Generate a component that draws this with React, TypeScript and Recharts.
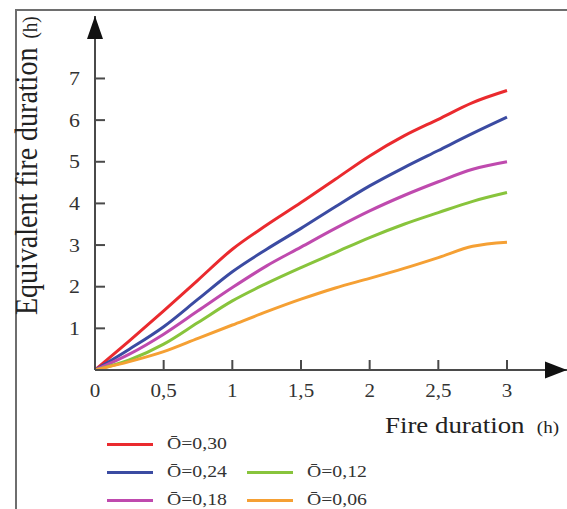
import { Legend, Line, LineChart, ReferenceDot, XAxis, YAxis } from 'recharts';

// fire duration (h) and equivalent fire duration (h) for each opening factor
const hours = [0, 0.25, 0.5, 0.75, 1, 1.25, 1.5, 1.75, 2, 2.25, 2.5, 2.75, 3];
const o30 = [0, 0.7, 1.42, 2.16, 2.9, 3.48, 4.02, 4.58, 5.14, 5.62, 6.02, 6.42, 6.71];
const o24 = [0, 0.5, 1.04, 1.7, 2.36, 2.9, 3.4, 3.92, 4.42, 4.86, 5.27, 5.68, 6.07];
const o18 = [0, 0.38, 0.86, 1.42, 1.98, 2.5, 2.95, 3.4, 3.82, 4.19, 4.52, 4.82, 5.0];
const o12 = [0, 0.24, 0.62, 1.14, 1.66, 2.08, 2.46, 2.82, 3.18, 3.5, 3.78, 4.05, 4.26];
const o06 = [0, 0.2, 0.44, 0.76, 1.08, 1.4, 1.7, 1.97, 2.2, 2.44, 2.7, 2.97, 3.07];

const seriesKeys = ['o30', 'o24', 'o18', 'o12', 'o06'];
const seriesNames = ['Ō=0,30', 'Ō=0,24', 'Ō=0,18', 'Ō=0,12', 'Ō=0,06'];
const seriesColors = ['#ea2a2e', '#3b4ba2', '#bf4aae', '#88c43c', '#f5a034'];

const xTicks = [0, 0.5, 1, 1.5, 2, 2.5, 3];
const xTickLabels = ['0', '0,5', '1', '1,5', '2', '2,5', '3'];
const yTicks = [1, 2, 3, 4, 5, 6, 7];

const X_MAX = 3.437;
const Y_MAX = 8.5;

const data = hours.map((h, i) => ({
  h,
  o30: o30[i],
  o24: o24[i],
  o18: o18[i],
  o12: o12[i],
  o06: o06[i],
}));

const FONT = 'Liberation Serif';
const AXIS = '#4a4a4a';

function XTick({ x, y, payload }: any) {
  const idx = xTicks.indexOf(payload.value);
  return (
    <g>
      <line x1={x} y1={y} x2={x} y2={y - 10} stroke={AXIS} strokeWidth={2} />
      <g transform={`translate(${x},${y + 27}) scale(1.17,1)`}>
        <text x={0} y={0} textAnchor="middle" fontSize={18} fontFamily={FONT} fill="#333">
          {idx >= 0 ? xTickLabels[idx] : payload.value}
        </text>
      </g>
    </g>
  );
}

function YTick({ x, y, payload }: any) {
  return (
    <g>
      <line x1={x} y1={y} x2={x + 10} y2={y} stroke={AXIS} strokeWidth={2} />
      <g transform={`translate(${x - 15},${y + 6.5}) scale(1.15,1)`}>
        <text x={0} y={0} textAnchor="end" fontSize={19} fontFamily={FONT} fill="#333">
          {payload.value}
        </text>
      </g>
    </g>
  );
}

function LegendGrid({ payload }: any) {
  return (
    <div
      style={{
        display: 'grid',
        gridTemplateColumns: '140px 140px',
        gridTemplateRows: '28px 28px 28px',
        paddingLeft: 107,
        fontFamily: FONT,
        fontSize: 17,
        color: '#333',
      }}
    >
      {(payload || []).map((entry: any) => {
        const i = seriesNames.indexOf(entry.value);
        return (
          <div
            key={entry.value}
            style={{
              gridColumn: i < 3 ? 1 : 2,
              gridRow: i < 3 ? i + 1 : i - 1,
              display: 'flex',
              alignItems: 'center',
            }}
          >
            <span style={{ width: 46, height: 3, background: entry.color, marginRight: 14 }} />
            <span style={{ display: 'inline-block', transform: 'scaleX(1.16)', transformOrigin: 'left center' }}>
              {entry.value}
            </span>
          </div>
        );
      })}
    </div>
  );
}

export default function App() {
  return (
    <div style={{ position: 'absolute', left: 0, top: 0, width: 567, height: 509, background: '#fff' }}>
      <div
        style={{
          position: 'absolute',
          left: 15,
          top: 9,
          right: 0,
          bottom: 0,
          borderTop: '2px solid #6e6e6e',
          borderLeft: '2px solid #6e6e6e',
        }}
      />
      <LineChart width={567} height={509} data={data} margin={{ top: 16, right: 0, bottom: 109, left: 0 }}>
        <XAxis
          type="number"
          dataKey="h"
          domain={[0, X_MAX]}
          ticks={xTicks}
          allowDataOverflow
          height={30}
          tickSize={0}
          tickMargin={0}
          tickLine={false}
          axisLine={{ stroke: AXIS, strokeWidth: 2 }}
          tick={<XTick />}
          label={{
            content: ({ viewBox }: any) => (
              <g transform={`translate(${viewBox.x + 290},${viewBox.y + 63}) scale(1.12,1)`}>
                <text x={0} y={0} fontSize={24} fontFamily={FONT} fill="#222">
                  Fire duration
                  <tspan fontSize={17} dx={11}>(h)</tspan>
                </text>
              </g>
            ),
          }}
        />
        <YAxis
          type="number"
          domain={[0, Y_MAX]}
          ticks={yTicks}
          allowDataOverflow
          width={95}
          tickSize={0}
          tickMargin={0}
          tickLine={false}
          axisLine={{ stroke: AXIS, strokeWidth: 2 }}
          tick={<YTick />}
          label={{
            content: ({ viewBox }: any) => (
              <g transform={`translate(${viewBox.x + 37},${viewBox.y + viewBox.height - 55}) scale(1.12,1) rotate(-90)`}>
                <text x={0} y={0} fontSize={28} fontFamily={FONT} fill="#222">
                  Equivalent fire duration
                  <tspan fontSize={19} dx={9}>(h)</tspan>
                </text>
              </g>
            ),
          }}
        />
        {seriesKeys.map((key, i) => (
          <Line
            key={key}
            type="monotone"
            dataKey={key}
            name={seriesNames[i]}
            stroke={seriesColors[i]}
            strokeWidth={3}
            dot={false}
            isAnimationActive={false}
          />
        ))}
        <ReferenceDot
          x={X_MAX}
          y={0}
          r={0}
          ifOverflow="visible"
          shape={(p: any) => (
            <polygon points={`${p.cx},${p.cy} ${p.cx - 22},${p.cy - 8.5} ${p.cx - 22},${p.cy + 8.5}`} fill="#111" />
          )}
        />
        <ReferenceDot
          x={0}
          y={Y_MAX}
          r={0}
          ifOverflow="visible"
          shape={(p: any) => (
            <polygon points={`${p.cx},${p.cy} ${p.cx - 8},${p.cy + 23} ${p.cx + 8},${p.cy + 23}`} fill="#111" />
          )}
        />
        <Legend
          layout="horizontal"
          verticalAlign="middle"
          content={<LegendGrid />}
          wrapperStyle={{ left: 0, top: 430, width: 567 }}
        />
      </LineChart>
    </div>
  );
}
